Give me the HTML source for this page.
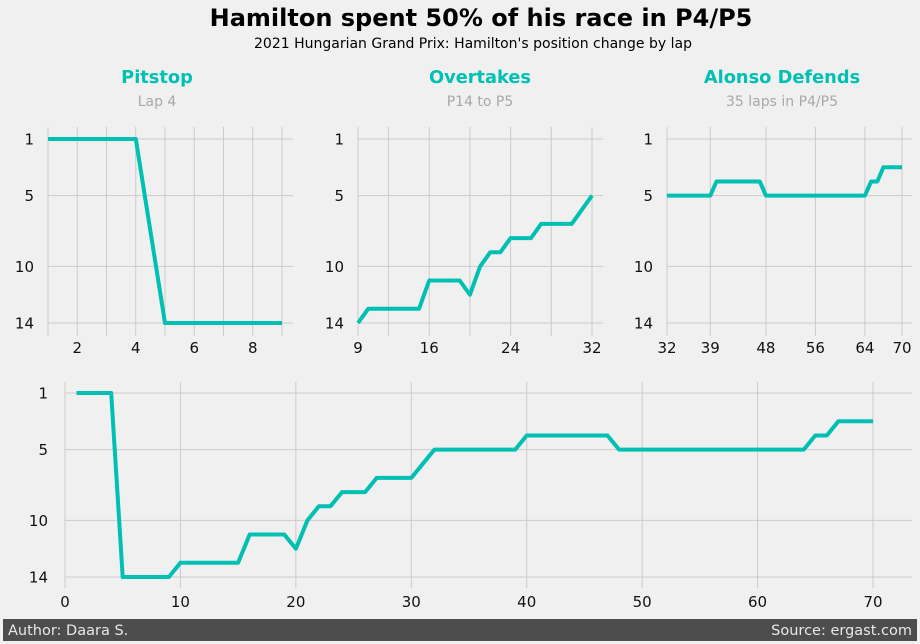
<!DOCTYPE html>
<html><head><meta charset="utf-8"><style>
body{margin:0;background:#f0f0f0;font-family:"Liberation Sans","DejaVu Sans",sans-serif}
svg{display:block}
text{font-family:"DejaVu Sans","Liberation Sans",sans-serif}
</style></head><body>
<svg id="c" width="920" height="644" viewBox="0 0 920 644">
<rect width="920" height="644" fill="#f0f0f0"/>
<text x="481" y="26" text-anchor="middle" font-size="24" font-weight="bold" fill="#000">Hamilton spent 50% of his race in P4/P5</text>
<text x="473" y="48" text-anchor="middle" font-size="14" fill="#000">2021 Hungarian Grand Prix: Hamilton's position change by lap</text>
<rect x="3" y="619" width="914" height="22" fill="#4d4d4d"/>
<text x="8" y="635" font-size="14.5" fill="#e8e8e8">Author: Daara S.</text>
<text x="912" y="635" text-anchor="end" font-size="14.5" fill="#e8e8e8">Source: ergast.com</text>
</svg>
<script>
const laps=[];for(let i=1;i<=70;i++)laps.push(i);
const positions=[1,1,1,1,14,14,14,14,14,13,13,13,13,13,13,11,11,11,11,12,10,9,9,8,8,8,7,7,7,7,6,5,5,5,5,5,5,5,5,4,4,4,4,4,4,4,4,5,5,5,5,5,5,5,5,5,5,5,5,5,5,5,5,5,4,4,3,3,3,3];
const yTicks=[1,5,10,14];
const panelTitles=["Pitstop","Overtakes","Alonso Defends"];
const panelSubtitles=["Lap 4","P14 to P5","35 laps in P4/P5"];
const panelRanges=[[1,9],[9,32],[32,70]];
const panelXTicks=[[2,4,6,8],[9,16,24,32],[32,39,48,56,64,70]];
const panelXGrid=[[1,2,3,4,5,6,7,8,9],[9,12,16,20,24,28,32],[32,39,48,56,64,70]];
const bottomXTicks=[0,10,20,30,40,50,60,70];
const NS="http://www.w3.org/2000/svg";
const svg=document.getElementById('c');
function mk(t,a,p){const e=document.createElementNS(NS,t);for(const k in a)e.setAttribute(k,a[k]);(p||svg).appendChild(e);return e;}
const panels=[
 {px0:48,px1:282,gx0:48,gx1:293,py1:139,py14:323,gy0:127,gy1:336,cx:157},
 {px0:358,px1:592,gx0:358,gx1:603,py1:139,py14:323,gy0:127,gy1:336,cx:480},
 {px0:667,px1:902,gx0:667,gx1:912,py1:139,py14:323,gy0:127,gy1:336,cx:782}
];
function drawAxes(g,lo,hi,px0,px1,gx0,gx1,py1,py14,gy0,gy1,xgrid,xticks,tickY,ylabX){
 const xs=v=>px0+(v-lo)/(hi-lo)*(px1-px0);
 const ys=v=>py1+(v-1)/13*(py14-py1);
 yTicks.forEach(t=>{
  const l=mk('line',{x1:gx0,x2:gx1,y1:ys(t),y2:ys(t),stroke:'#cbcbcb','stroke-width':1},g);
  
  
  const tx=mk('text',{x:ylabX,y:ys(t)+5.5,'text-anchor':'end','font-size':15,fill:'#111'},g);
  tx.textContent=t;
  
  
 });
 xgrid.forEach(t=>{
  const l=mk('line',{x1:xs(t),x2:xs(t),y1:gy0,y2:gy1,stroke:'#cbcbcb','stroke-width':1},g);
  
  
 });
 xticks.forEach(t=>{
  const tx=mk('text',{x:xs(t),y:tickY,'text-anchor':'middle','font-size':15,fill:'#111'},g);
  tx.textContent=t;
  
  
 });
 let d='';
 laps.forEach((l,i)=>{if(l>=lo&&l<=hi)d+=(d?'L':'M')+xs(l).toFixed(1)+','+ys(positions[i]).toFixed(1);});
 const p=mk('path',{d:d,fill:'none',stroke:'#00bfb3','stroke-width':4,'stroke-linejoin':'round'},g);
 
 
}
panels.forEach((P,i)=>{
 const g=mk('g',{});
 
 
 const t=mk('text',{x:P.cx,y:83,'text-anchor':'middle','font-size':17.8,'font-weight':'bold',fill:'#00bfb3'},g);
 t.textContent=panelTitles[i];
 
 
 const s=mk('text',{x:P.cx,y:106,'text-anchor':'middle','font-size':14,fill:'#a8a8a8'},g);
 s.textContent=panelSubtitles[i];
 
 
 drawAxes(g,panelRanges[i][0],panelRanges[i][1],P.px0,P.px1,P.gx0,P.gx1,P.py1,P.py14,P.gy0,P.gy1,panelXGrid[i],panelXTicks[i],353,P.gx0-14);
});
const gb=mk('g',{});


drawAxes(gb,0,70,65,873,65,912,393,577,382,588,bottomXTicks,bottomXTicks,607,48);
</script>
</body></html>
